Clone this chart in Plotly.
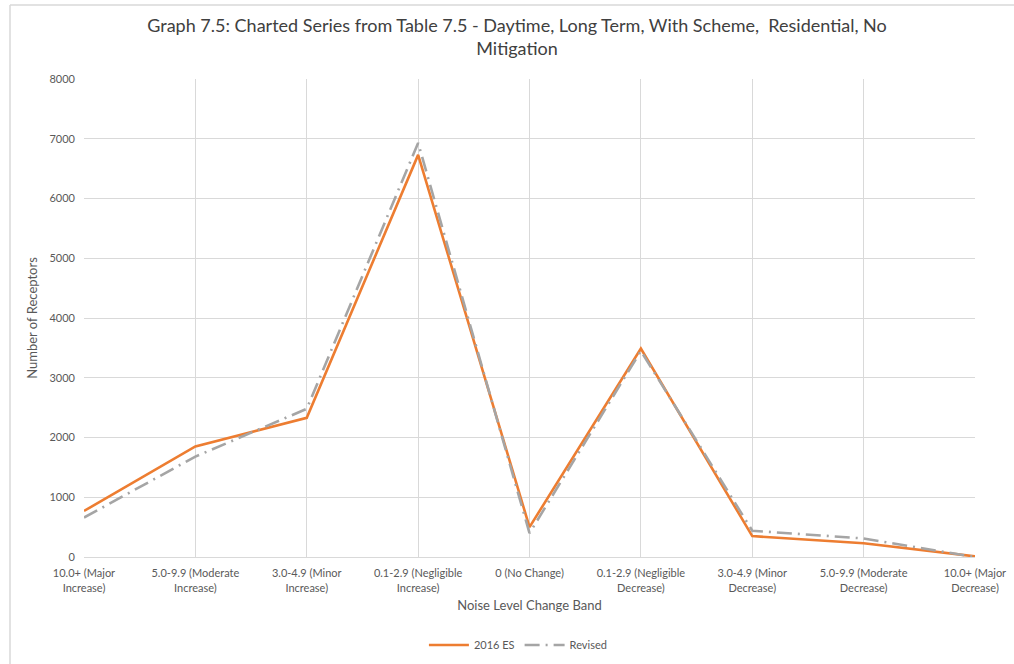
import plotly.graph_objects as go

categories = [
    "10.0+ (Major<br>Increase)",
    "5.0-9.9 (Moderate<br>Increase)",
    "3.0-4.9 (Minor<br>Increase)",
    "0.1-2.9 (Negligible<br>Increase)",
    "0 (No Change)",
    "0.1-2.9 (Negligible<br>Decrease)",
    "3.0-4.9 (Minor<br>Decrease)",
    "5.0-9.9 (Moderate<br>Decrease)",
    "10.0+ (Major<br>Decrease)",
]
es_2016 = [770, 1850, 2330, 6730, 500, 3490, 350, 230, 10]
revised = [660, 1680, 2480, 6930, 400, 3450, 440, 310, 0]
y_ticks = [0, 1000, 2000, 3000, 4000, 5000, 6000, 7000, 8000]

xs = list(range(len(categories)))
font_family = "Lato, 'Open Sans', sans-serif"

fig = go.Figure()
fig.add_trace(go.Scatter(
    x=xs, y=es_2016, mode="lines", name="2016 ES",
    line=dict(color="#ED7D31", width=2.6),
))
fig.add_trace(go.Scatter(
    x=xs, y=revised, mode="lines", name="Revised",
    line=dict(color="#A5A5A5", width=2.6, dash="15px,6px,2px,6px"),
))

grid = "#d9d9d9"
fig.update_layout(
    width=1014, height=664,
    margin=dict(l=84, r=39, t=79, b=107, autoexpand=False),
    paper_bgcolor="white", plot_bgcolor="white",
    font=dict(family=font_family, color="#595959", size=11),
    title=dict(
        text="Graph 7.5: Charted Series from Table 7.5 - Daytime, Long Term, With Scheme,  Residential, No<br>Mitigation",
        x=0.486, xanchor="center", xref="paper",
        y=0.952, yanchor="top", yref="container",
        font=dict(size=18, color="#404040", family=font_family),
    ),
    xaxis=dict(
        range=[0, len(categories) - 1],
        tickmode="array", tickvals=xs, ticktext=categories,
        showgrid=True, gridcolor=grid, gridwidth=1,
        showline=True, linecolor=grid, linewidth=1,
        zeroline=False, ticks="", automargin=False,
        ticklabelstandoff=6,
        tickfont=dict(size=11, color="#595959"),
        title=dict(text="Noise Level Change Band", font=dict(size=13, color="#595959"), standoff=8),
        fixedrange=True,
    ),
    yaxis=dict(
        range=[0, 8000],
        tickmode="array", tickvals=y_ticks,
        showgrid=True, gridcolor=grid, gridwidth=1,
        zeroline=False, showline=False, ticks="", automargin=False,
        ticklabelstandoff=8,
        tickfont=dict(size=11, color="#595959"),
        title=dict(text="Number of Receptors", font=dict(size=13, color="#595959"), standoff=8),
        fixedrange=True,
    ),
    legend=dict(
        orientation="h", x=0.487, xanchor="center", y=-0.184, yanchor="middle",
        font=dict(size=11, color="#595959"), itemwidth=40,
        bgcolor="rgba(0,0,0,0)",
    ),
    showlegend=True,
)

# chart frame lines along the top and left edge
plot_w, plot_h = 1014 - 84 - 39, 664 - 79 - 107
def px_x(p):
    return (p - 84) / plot_w
def px_y(p):
    return (557 - p) / plot_h
fig.add_shape(type="line", xref="paper", yref="paper",
              x0=px_x(10), x1=px_x(1014), y0=px_y(5), y1=px_y(5),
              line=dict(color="#d9d9d9", width=1.5))
fig.add_shape(type="line", xref="paper", yref="paper",
              x0=px_x(10), x1=px_x(10), y0=px_y(5), y1=px_y(664),
              line=dict(color="#d9d9d9", width=1.5))

fig.write_html("out.html")
